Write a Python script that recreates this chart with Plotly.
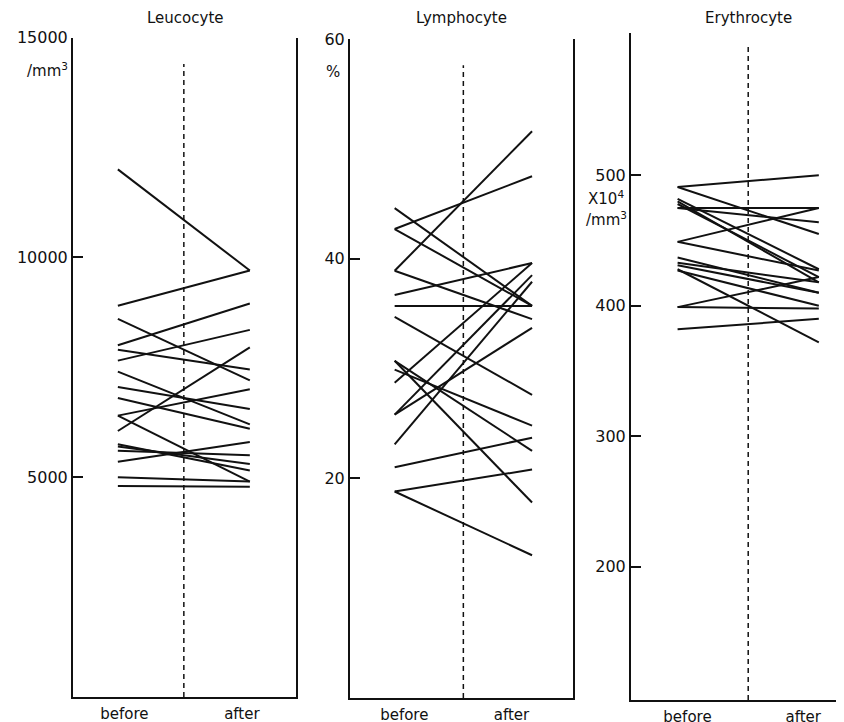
import plotly.graph_objects as go

# ---------------- data ----------------
stages = ["before", "after"]

leuco_before = [12000, 8900, 8600, 8000, 7900, 7650, 7400, 7050, 6800, 6400, 6400, 6050, 5750, 5700, 5600, 5350, 5000, 4800]
leuco_after  = [9700, 9700, 7200, 8950, 7450, 8350, 6200, 6550, 6100, 7000, 4900, 7950, 5150, 5300, 5500, 5800, 4900, 4780]

lympho_before = [44.6, 42.7, 42.7, 38.9, 38.9, 36.7, 35.7, 34.7, 30.7, 30.7, 29.9, 28.7, 25.8, 25.8, 23.1, 21.0, 18.8, 18.8]
lympho_after  = [35.7, 47.5, 35.7, 51.6, 34.5, 39.6, 35.7, 27.6, 22.5, 17.8, 24.8, 39.6, 38.5, 33.7, 37.9, 23.7, 20.8, 13.0]

eryth_before = [491, 491, 482, 480, 478, 475, 475, 449, 449, 437, 433, 431, 428, 427, 399, 399, 382]
eryth_after  = [500, 455, 428, 418, 422, 475, 464, 475, 427, 410, 418, 410, 372, 400, 422, 398, 390]

leuco_ticks = [5000, 10000, 15000]
lympho_ticks = [20, 40, 60]
eryth_ticks = [200, 300, 400, 500]

titles = ["Leucocyte", "Lymphocyte", "Erythrocyte"]

# ---------------- figure ----------------
W, H = 844, 722
OFF = 8  # page body margin offset
FONT = "DejaVu Sans"
INK = "#111111"

def px(xp):
    return (xp - OFF) / W

def py(yp):
    return 1 - (yp - OFF) / H

fig = go.Figure()

panels = [
    (leuco_before, leuco_after, "x", "y"),
    (lympho_before, lympho_after, "x2", "y2"),
    (eryth_before, eryth_after, "x3", "y3"),
]
for before, after, xa, ya in panels:
    for b, a in zip(before, after):
        fig.add_trace(go.Scatter(
            x=[0, 1], y=[b, a], mode="lines",
            line=dict(color=INK, width=2),
            xaxis=xa, yaxis=ya, showlegend=False, hoverinfo="skip"))

axis_common = dict(showgrid=False, zeroline=False, showline=True,
                   linecolor=INK, linewidth=2, fixedrange=True, automargin=False)
tickfont = dict(family=FONT, size=16, color=INK)

# x axes
xdefs = [
    ("xaxis", [px(73), px(296)], [-0.34, 1.35], [0.05, 0.94], "y"),
    ("xaxis2", [px(350), px(573)], [-0.325, 1.298], [0.07, 0.85], "y2"),
    ("xaxis3", [px(631), 1.0], [-0.33, 1.235], [0.07, 0.89], "y3"),
]
for name, dom, rng, tv, anchor in xdefs:
    fig.layout[name] = dict(domain=dom, range=rng, tickvals=tv, ticktext=stages,
                            ticks="", anchor=anchor, ticklabelstandoff=2,
                            tickfont=dict(family=FONT, size=15, color=INK),
                            **axis_common)

# y axes
ydefs = [
    ("yaxis", [py(697), py(37.5)], [0, 15000], leuco_ticks, True, "x"),
    ("yaxis2", [py(698), py(39)], [0, 60], lympho_ticks, True, "x2"),
    ("yaxis3", [py(700), py(33)], [98, 609], eryth_ticks, False, "x3"),
]
for name, dom, rng, tv, mirror, anchor in ydefs:
    fig.layout[name] = dict(domain=dom, range=rng, tickvals=tv, ticktext=[str(v) for v in tv],
                            ticks="inside", ticklen=10, tickwidth=2, tickcolor=INK,
                            mirror=mirror, anchor=anchor, tickfont=tickfont,
                            **axis_common)

# dashed separators
dashes = [("x", "y", 14400), ("x2", "y2", 57.6), ("x3", "y3", 599)]
for xr, yr, top in dashes:
    bottom = fig.layout["yaxis" + yr[1:]].range[0]
    fig.add_shape(type="line", xref=xr, yref=yr, x0=0.5, x1=0.5, y0=bottom, y1=top,
                  line=dict(color=INK, width=1.5, dash="5px,4px"))

# titles
for t, xc in zip(titles, [185, 462, 748]):
    fig.add_annotation(text=t, x=px(xc), y=py(18), xref="paper", yref="paper",
                       xanchor="center", yanchor="middle",
                       showarrow=False, font=dict(family=FONT, size=15, color=INK))

# unit labels
units = [
    ("/mm<sup>3</sup>", 47, 70),
    ("%", 333, 72),
    ("X10<sup>4</sup>", 606, 198),
    ("/mm<sup>3</sup>", 606, 219),
]
for t, xc, yc in units:
    fig.add_annotation(text=t, x=px(xc), y=py(yc), xref="paper", yref="paper",
                       xanchor="center", yanchor="middle",
                       showarrow=False, font=dict(family=FONT, size=15, color=INK))

fig.update_layout(width=W, height=H,
                  margin=dict(l=0, r=0, t=0, b=0, autoexpand=False),
                  plot_bgcolor="white", paper_bgcolor="white", showlegend=False)

fig.write_html("out.html")
